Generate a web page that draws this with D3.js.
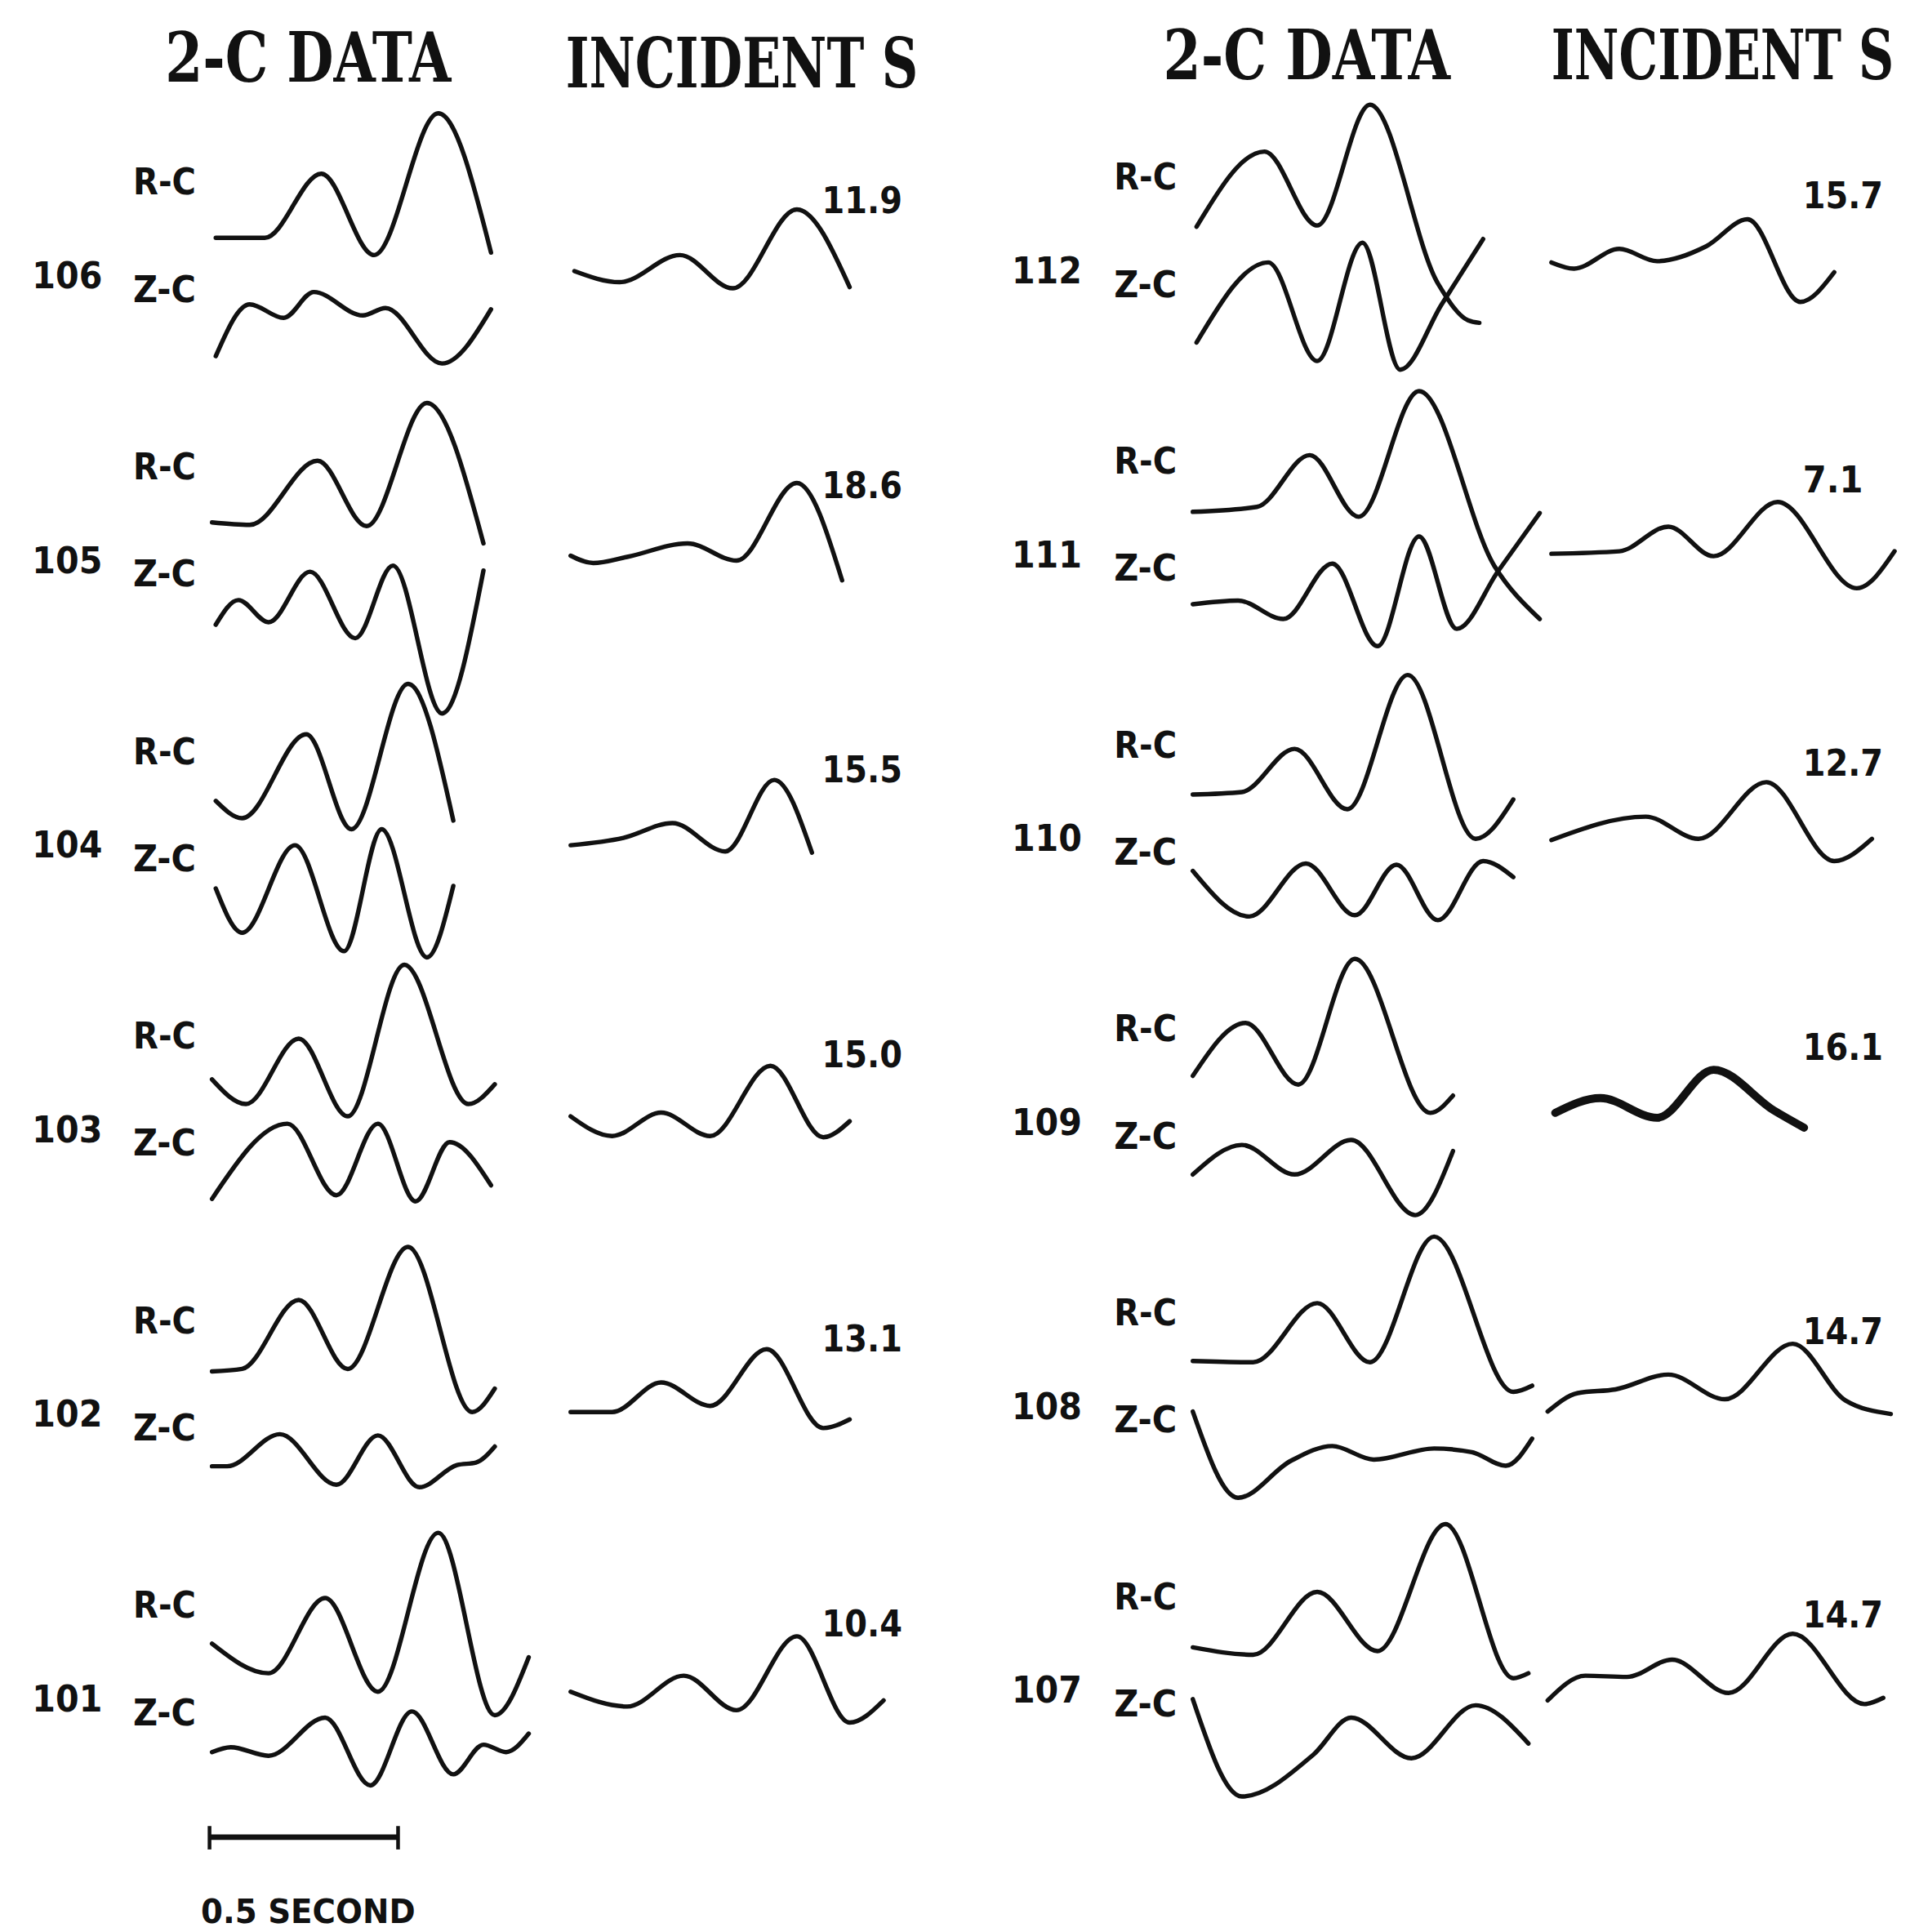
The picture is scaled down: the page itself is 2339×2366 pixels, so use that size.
<!DOCTYPE html>
<html>
<head>
<meta charset="utf-8">
<script src="https://cdn.jsdelivr.net/npm/d3@7"></script>
<style>
  body { margin: 0; background: #fff; }
</style>
</head>
<body>
<svg id="chart"></svg>
<script>
// station numbers: left block top to bottom, then right block
const stations = ["106", "105", "104", "103", "102", "101", "112", "111", "110", "109", "108", "107"];
// value printed beside each incident S wavelet
const incidentLabels = ["11.9", "18.6", "15.5", "15.0", "13.1", "10.4", "15.7", "7.1", "12.7", "16.1", "14.7", "14.7"];
const componentLabels = ["R-C", "Z-C"];
const titles = ["2-C DATA", "INCIDENT S"];
const scaleBarSeconds = 0.5;
const scaleBarLabel = "0.5 SECOND";

// traces as [time (s), amplitude], amplitude in arbitrary units
const rcTraces = [
  [[0.01,-16],[0.14,-16],[0.29,36],[0.43,-30],[0.60,85],[0.74,-28]],
  [[0,-16],[0.10,-18],[0.28,34],[0.41,-19],[0.57,81],[0.72,-33]],
  [[0.01,-11],[0.08,-25],[0.25,43],[0.37,-34],[0.52,84],[0.64,-27]],
  [[0,-6],[0.09,-26],[0.23,27],[0.36,-36],[0.51,87],[0.68,-26],[0.75,-10]],
  [[0,-12],[0.08,-10],[0.23,46],[0.36,-10],[0.52,89],[0.69,-45],[0.75,-26]],
  [[0,-2],[0.15,-26],[0.30,35],[0.44,-41],[0.60,88],[0.75,-60],[0.84,-13]],
  [[0.01,-11],[0.19,50],[0.33,-10],[0.47,88],[0.65,-57],[0.73,-87],[0.76,-89]],
  [[0,-12],[0.17,-8],[0.31,34],[0.44,-16],[0.60,86],[0.80,-56],[0.92,-99]],
  [[0,-11],[0.13,-9],[0.27,26],[0.41,-23],[0.57,86],[0.75,-47],[0.85,-15]],
  [[0,-9],[0.14,34],[0.28,-16],[0.43,86],[0.63,-39],[0.69,-25]],
  [[0,-10],[0.16,-11],[0.33,37],[0.47,-11],[0.64,91],[0.85,-35],[0.90,-30]],
  [[0,-12],[0.16,-18],[0.33,33],[0.49,-15],[0.67,88],[0.85,-37],[0.89,-33]]
];
const zcTraces = [
  [[0.01,-22],[0.10,20],[0.19,9],[0.27,30],[0.40,11],[0.46,17],[0.61,-28],[0.74,16]],
  [[0.01,-9],[0.07,11],[0.15,-7],[0.26,34],[0.38,-20],[0.48,39],[0.61,-81],[0.72,35]],
  [[0.01,8],[0.08,-28],[0.22,43],[0.35,-43],[0.45,56],[0.57,-48],[0.64,10]],
  [[0,-13],[0.20,48],[0.33,-10],[0.44,48],[0.54,-15],[0.63,33],[0.74,-2]],
  [[0,1],[0.04,1],[0.18,27],[0.33,-14],[0.44,26],[0.55,-16],[0.65,2],[0.70,4],[0.75,17]],
  [[0,0],[0.05,4],[0.15,-3],[0.30,28],[0.42,-27],[0.53,33],[0.64,-18],[0.72,6],[0.78,0],[0.84,15]],
  [[0.01,-15],[0.20,50],[0.33,-30],[0.45,66],[0.55,-37],[0.66,16],[0.77,69]],
  [[0,3],[0.12,6],[0.24,-9],[0.37,36],[0.49,-31],[0.60,58],[0.70,-17],[0.81,30],[0.92,77]],
  [[0,17],[0.15,-20],[0.30,23],[0.43,-19],[0.54,22],[0.65,-23],[0.77,25],[0.85,12]],
  [[0,1],[0.13,25],[0.27,1],[0.42,29],[0.59,-32],[0.69,20]],
  [[0,39],[0.12,-31],[0.26,-1],[0.37,11],[0.48,0],[0.64,9],[0.74,6],[0.83,-5],[0.90,17]],
  [[0,36],[0.13,-43],[0.32,-9],[0.42,21],[0.58,-12],[0.75,31],[0.89,0]]
];
const incTraces = [
  [[0.02,-8],[0.14,-17],[0.30,5],[0.44,-22],[0.61,42],[0.75,-21]],
  [[0.01,-8],[0.07,-14],[0.16,-9],[0.32,2],[0.45,-12],[0.61,51],[0.73,-28]],
  [[0.01,-12],[0.15,-6],[0.28,6],[0.42,-17],[0.55,41],[0.65,-18]],
  [[0.01,-1],[0.12,-17],[0.25,2],[0.38,-17],[0.54,40],[0.68,-18],[0.75,-5]],
  [[0.01,-10],[0.12,-10],[0.25,14],[0.38,-5],[0.53,41],[0.68,-23],[0.75,-16]],
  [[0.01,-6],[0.16,-18],[0.31,7],[0.45,-21],[0.61,39],[0.75,-31],[0.84,-13]],
  [[0.01,-5],[0.07,-10],[0.19,6],[0.29,-4],[0.42,8],[0.53,30],[0.67,-37],[0.76,-13]],
  [[0.01,-11],[0.19,-9],[0.32,11],[0.44,-13],[0.61,31],[0.82,-39],[0.92,-9]],
  [[0.01,-13],[0.26,6],[0.40,-12],[0.58,34],[0.76,-30],[0.86,-12]],
  [[0.02,-4],[0.14,8],[0.29,-8],[0.44,31],[0.60,-2],[0.68,-16]],
  [[0,-16],[0.08,-1],[0.18,2],[0.32,14],[0.47,-6],[0.65,39],[0.79,-7],[0.91,-18]],
  [[0,-20],[0.10,0],[0.21,-1],[0.33,13],[0.48,-14],[0.65,34],[0.84,-23],[0.89,-18]]
];

// layout is done in a 1550-wide frame and scaled up to the window
const W = 2339, H = 2366, VW = 1550, VH = 1568;
const svg = d3.select("#chart")
  .attr("width", W).attr("height", H)
  .attr("viewBox", `0 0 ${VW} ${VH}`);
svg.append("rect").attr("width", VW).attr("height", VH).attr("fill", "#fff");

const pxPerSecond = 306;
const blocks = [
  { numX: 26, labX: 108, dataX: 172, incX: 460, incLabX: 667, top: 222, step: 231,
    titleX: [134, 459], titleW: [232, 286], titleY: [66, 71] },
  { numX: 821, labX: 904, dataX: 968, incX: 1256, incLabX: 1463, top: 218, step: 230.4,
    titleX: [944, 1259], titleW: [233, 278], titleY: [64, 64] }
];
const heavyTraces = new Set(["109"]);
const traceWidth = 3.6;

const typeFont = "'DejaVu Sans Condensed', 'Liberation Sans Narrow', 'DejaVu Sans', sans-serif";
const titleFont = "'DejaVu Serif Condensed', 'Liberation Serif', serif";

// draw a text, then squeeze it horizontally so it spans exactly `len`
function fitText(txt, x, y, size, len, family) {
  const t = svg.append("text")
    .attr("x", 0).attr("y", 0)
    .style("font-family", family).style("font-weight", "bold")
    .style("font-size", size + "px").attr("fill", "#111")
    .text(txt);
  const natural = t.node().getComputedTextLength() || len;
  t.attr("transform", `translate(${x},${y}) scale(${len / natural},1)`);
  return t;
}

// titles
blocks.forEach(b => {
  titles.forEach((t, j) => fitText(t, b.titleX[j], b.titleY[j], 56, b.titleW[j], titleFont));
});

const line = d3.line().curve(d3.curveMonotoneX);

function drawTrace(pts, x0, axisY, width) {
  const x = d3.scaleLinear().domain([0, 1]).range([x0, x0 + pxPerSecond]);
  const y = d3.scaleLinear().domain([-100, 100]).range([axisY + 100, axisY - 100]);
  svg.append("path")
    .attr("d", line.x(d => x(d[0])).y(d => y(d[1]))(pts))
    .attr("fill", "none")
    .attr("stroke", "#111")
    .attr("stroke-width", width)
    .attr("stroke-linecap", "round")
    .attr("stroke-linejoin", "round");
}

stations.forEach((st, i) => {
  const b = blocks[Math.floor(i / 6)];
  const rowY = b.top + (i % 6) * b.step;

  fitText(st, b.numX, rowY + 12, 30, 57, typeFont);
  fitText(componentLabels[0], b.labX, rowY - 64, 29, 51, typeFont);
  fitText(componentLabels[1], b.labX, rowY + 23, 29, 51, typeFont);
  fitText(incidentLabels[i], b.incLabX, rowY - 49, 30, incidentLabels[i].length * 16.3, typeFont);

  drawTrace(rcTraces[i], b.dataX, rowY - 45, traceWidth);
  drawTrace(zcTraces[i], b.dataX, rowY + 45, traceWidth);
  drawTrace(incTraces[i], b.incX, rowY - 10, heavyTraces.has(st) ? 6.5 : traceWidth);
});

// 0.5 second scale bar under the left block
const bx = d3.scaleLinear().domain([0, 1]).range([blocks[0].dataX - 2, blocks[0].dataX - 2 + pxPerSecond]);
const barY = 1491;
svg.append("line")
  .attr("x1", bx(0)).attr("x2", bx(scaleBarSeconds))
  .attr("y1", barY).attr("y2", barY)
  .attr("stroke", "#111").attr("stroke-width", 4.5);
[0, scaleBarSeconds].forEach(t => {
  svg.append("line")
    .attr("x1", bx(t)).attr("x2", bx(t))
    .attr("y1", barY - 9).attr("y2", barY + 10)
    .attr("stroke", "#111").attr("stroke-width", 3);
});
fitText(scaleBarLabel, 163, 1561, 27, 174, typeFont);
</script>
</body>
</html>
